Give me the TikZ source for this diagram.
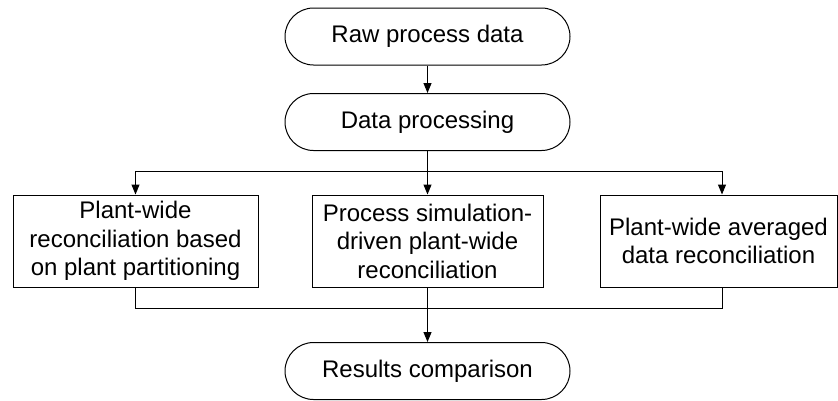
\documentclass[tikz,border=0pt]{standalone}
\usepackage{fontspec}
\setmainfont{Liberation Sans}
\usetikzlibrary{arrows.meta}
\begin{document}
\begin{tikzpicture}[x=1pt,y=-1pt,
  line width=1pt,
  every node/.style={font=\fontsize{24}{28.5}\selectfont, align=center, inner sep=0pt},
  terminal/.style={draw, rounded corners=28.5pt, minimum width=285pt, minimum height=57pt},
  procbox/.style={draw, minimum height=92pt},
  flow/.style={-{Triangle[length=10pt,width=8pt]}}]
  \useasboundingbox (0,0) rectangle (838,400);

  % start and processing stages
  \node[terminal] (raw) at (427.5,36.5) {Raw process data};
  \node[terminal] (proc) at (427.5,122) {Data processing};

  % three reconciliation approaches
  \node[procbox, minimum width=245pt] (part) at (135.5,241)
    {Plant-wide\\reconciliation based\\on plant partitioning};
  \node[procbox, minimum width=231pt] (sim) at (427.5,241)
    {Process simulation-\\driven plant-wide\\reconciliation};
  \node[procbox, minimum width=237pt] (avg) at (718.5,241)
    {Plant-wide averaged\\data reconciliation};

  % final comparison
  \node[terminal] (res) at (427.5,371) {Results comparison};

  % branch and merge points
  \coordinate (split) at (427.5,171);
  \coordinate (splitL) at (135.5,171);
  \coordinate (splitR) at (722,171);
  \coordinate (merge) at (427.5,308);
  \coordinate (mergeL) at (135.5,308);
  \coordinate (mergeR) at (722,308);

  \draw[flow] (raw) -- (proc);
  \draw (proc) -- (split);
  \draw (splitL) -- (splitR);
  \draw[flow] (splitL) -- (part);
  \draw[flow] (split) -- (sim);
  \draw[flow] (splitR) -- (splitR |- avg.north);

  \draw (part.south) -- (mergeL) -- (mergeR) -- (mergeR |- avg.south);
  \draw[flow] (sim) -- (res);
\end{tikzpicture}
\end{document}
